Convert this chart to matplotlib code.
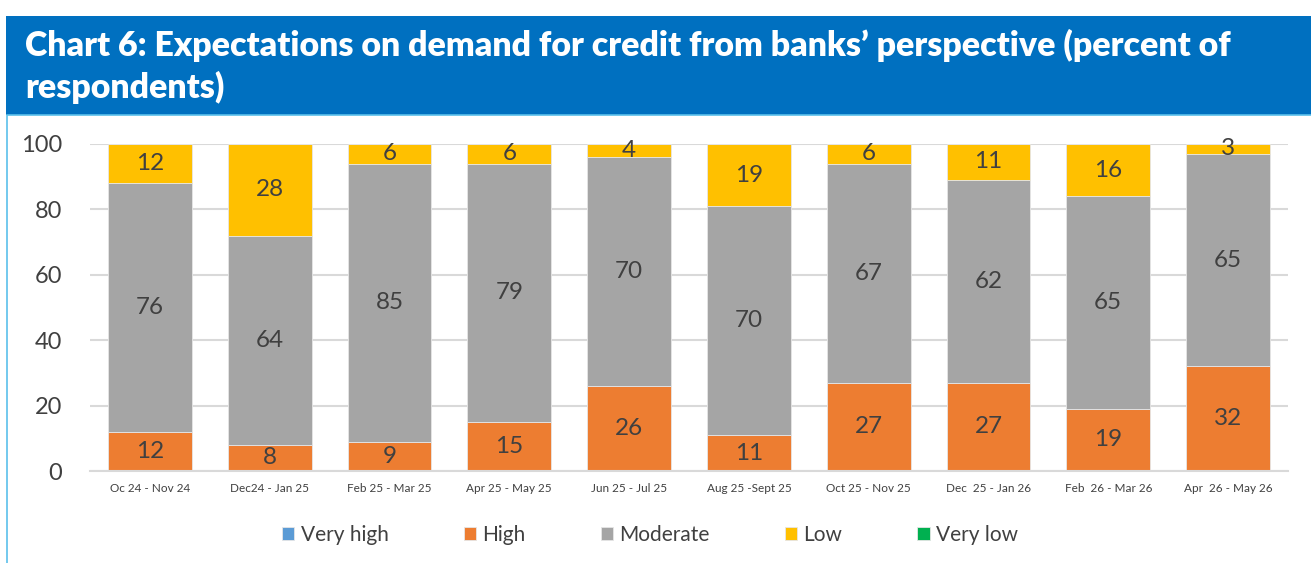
import numpy as np
import matplotlib.pyplot as plt
from matplotlib.patches import Rectangle

plt.rcParams['font.family'] = ['Lato', 'DejaVu Sans']

periods = ['Oc 24 - Nov 24', 'Dec24 - Jan 25', 'Feb 25 - Mar 25', 'Apr 25 - May 25',
           'Jun 25 - Jul 25', 'Aug 25 -Sept 25', 'Oct 25 - Nov 25', 'Dec  25 - Jan 26',
           'Feb  26 - Mar 26', 'Apr  26 - May 26']
very_high = [0, 0, 0, 0, 0, 0, 0, 0, 0, 0]
high = [12, 8, 9, 15, 26, 11, 27, 27, 19, 32]
moderate = [76, 64, 85, 79, 70, 70, 67, 62, 65, 65]
low = [12, 28, 6, 6, 4, 19, 6, 11, 16, 3]
very_low = [0, 0, 0, 0, 0, 0, 0, 0, 0, 0]

series = [('Very high', very_high, '#5B9BD5'),
          ('High', high, '#ED7D31'),
          ('Moderate', moderate, '#A5A5A5'),
          ('Low', low, '#FFC000'),
          ('Very low', very_low, '#00B050')]

W, H = 1311, 563
fig = plt.figure(figsize=(W / 100, H / 100), dpi=100)

# title band and chart frame
fig.patches.append(Rectangle((6 / W, 1 - 115 / H), 1, 99 / H, transform=fig.transFigure,
                             facecolor='#0070C0', edgecolor='none'))
fig.patches.append(Rectangle((7 / W, -0.01), 1, 1 - 115 / H + 0.01, transform=fig.transFigure,
                             facecolor='none', edgecolor='#5BC0EB', linewidth=1.2))
fig.text(25 / W, 1 - 45 / H, 'Chart 6: Expectations on demand for credit from banks\u2019 perspective (percent of',
         color='white', fontsize=24.4, fontweight='heavy', va='center', ha='left')
fig.text(25 / W, 1 - 87 / H, 'respondents)',
         color='white', fontsize=24.4, fontweight='heavy', va='center', ha='left')

ax = fig.add_axes([90 / W, 1 - 471 / H, (1288 - 90) / W, (471 - 144) / H])
x = np.arange(len(periods))
bottom = np.zeros(len(periods))
for name, vals, col in series:
    vals = np.array(vals, dtype=float)
    ax.bar(x, vals, 0.7, bottom=bottom, color=col, edgecolor='#E6E6E6',
           linewidth=0.6, label=name, zorder=2)
    for xi, v, b in zip(x, vals, bottom):
        if v > 0:
            ax.text(xi, b + v / 2, f'{v:g}', ha='center', va='center',
                    fontsize=17.5, color='#404040', zorder=3)
    bottom += vals

ax.set_xlim(-0.5, len(periods) - 0.5)
ax.set_ylim(0, 100)
ax.set_yticks(range(0, 101, 20))
ax.yaxis.grid(True, color='#D9D9D9', linewidth=1.5, zorder=0)
ax.set_axisbelow(True)
for s in ['top', 'right', 'left']:
    ax.spines[s].set_visible(False)
ax.spines['bottom'].set_color('#D9D9D9')
ax.spines['bottom'].set_linewidth(1.5)
ax.tick_params(axis='both', length=0)
ax.tick_params(axis='y', labelsize=17, labelcolor='#404040', pad=20)
ax.tick_params(axis='x', labelsize=8.5, labelcolor='#404040', pad=9)
ax.set_xticks(x)
ax.set_xticklabels(periods)

handles, labels = ax.get_legend_handles_labels()
fig.legend(handles, labels, loc='center', bbox_to_anchor=(650 / W, 1 - 535 / H), ncol=5,
           frameon=False, fontsize=15, handlelength=0.6, handleheight=0.6,
           handletextpad=0.3, columnspacing=3.6, labelcolor='#404040')

fig.savefig('out.png', dpi=100)
